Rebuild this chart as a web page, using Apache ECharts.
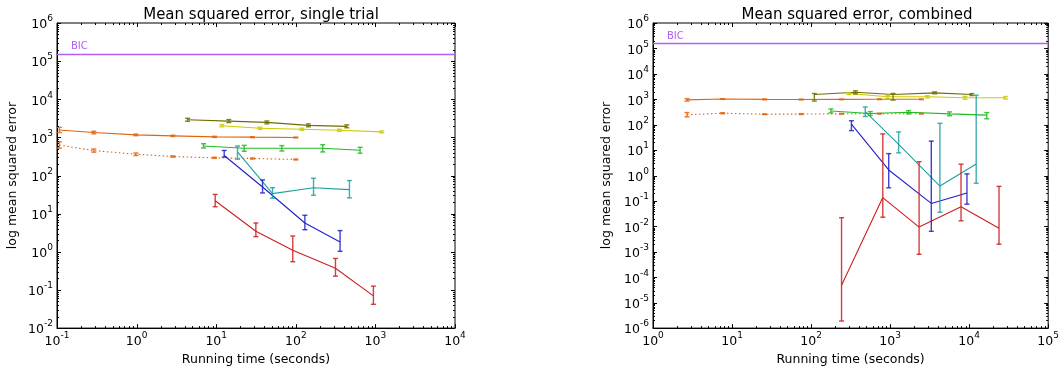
<!DOCTYPE html>
<html>
<head>
<meta charset="utf-8">
<script src="https://cdn.jsdelivr.net/npm/echarts@6/dist/echarts.min.js"></script>
<style>
html,body{margin:0;padding:0;background:#fff;}
#chart{width:1062px;height:371px;}
</style>
</head>
<body>
<div id="chart"></div>
<script>
// ---------- tick labels / axis ranges ----------
const LEFT_X_TICKS = [0.1, 1, 10, 100, 1000, 10000];
const LEFT_Y_TICKS = [1e-2, 1e-1, 1, 10, 100, 1e3, 1e4, 1e5, 1e6];
const RIGHT_X_TICKS = [1, 10, 100, 1000, 10000, 100000];
const RIGHT_Y_TICKS = [1e-6, 1e-5, 1e-4, 1e-3, 1e-2, 1e-1, 1, 10, 100, 1e3, 1e4, 1e5, 1e6];
const MINOR_MULT = [2, 3, 4, 5, 6, 7, 8, 9];
const BIC_VALUE = 156000;

// ---------- single trial ----------
const S_RED_X  = [9.7, 31.5, 91.6, 315, 944];
const S_RED_Y  = [21.9, 3.46, 1.1, 0.37, 0.07];
const S_RED_LO = [15.2, 2.5, 0.55, 0.23, 0.042];
const S_RED_HI = [32, 5.7, 2.6, 0.67, 0.126];

const S_BLUE_X  = [12.6, 38.2, 130, 360];
const S_BLUE_Y  = [335, 50, 5.7, 1.8];
const S_BLUE_LO = [305, 35, 3.8, 1.03];
const S_BLUE_HI = [455, 77, 9.1, 3.6];

const S_TEAL_X  = [18.5, 51, 167, 472];
const S_TEAL_Y  = [420, 33.6, 48, 42.7];
const S_TEAL_LO = [269, 25.5, 30.5, 26];
const S_TEAL_HI = [594, 48, 85, 74];

const S_GREEN_X  = [6.93, 22.5, 66.7, 218, 642];
const S_GREEN_Y  = [594, 518, 518, 518, 459];
const S_GREEN_LO = [528, 433, 440, 416, 385];
const S_GREEN_HI = [683, 618, 610, 644, 550];

const S_OLIVE_X  = [4.37, 14.4, 43.3, 144, 437];
const S_OLIVE_Y  = [2900, 2680, 2475, 2070, 1950];
const S_OLIVE_LO = [2650, 2450, 2270, 1900, 1790];
const S_OLIVE_HI = [3170, 2930, 2700, 2260, 2130];

const S_YELLOW_X  = [11.7, 35.6, 119, 353, 1200];
const S_YELLOW_Y  = [2030, 1733, 1633, 1538, 1393];
const S_YELLOW_LO = [1900, 1620, 1530, 1440, 1310];
const S_YELLOW_HI = [2170, 1850, 1745, 1645, 1480];

const S_ORANGE_X  = [0.107, 0.29, 0.98, 2.85, 9.5, 28.5, 100];
const S_ORANGE_Y  = [1570, 1340, 1166, 1099, 1035, 1015, 995];
const S_ORANGE_LO = [1340, 1240, 1110, 1060, 1000, 985, 970];
const S_ORANGE_HI = [1840, 1450, 1225, 1140, 1070, 1045, 1020];

const S_ORDOT_X  = [0.107, 0.29, 0.98, 2.85, 9.5, 28.5, 100];
const S_ORDOT_Y  = [631, 451, 362, 315, 292, 280, 264];
const S_ORDOT_LO = [520, 410, 335, 303, 282, 270, 256];
const S_ORDOT_HI = [770, 497, 390, 328, 303, 290, 272];

// ---------- combined ----------
const C_RED_X  = [243, 808, 2327, 7890, 23870];
const C_RED_Y  = [4.8e-5, 0.136, 0.0094, 0.059, 0.0084];
const C_RED_LO = [1.9e-6, 0.023, 0.0008, 0.0166, 0.002];
const C_RED_HI = [0.022, 43.5, 3.5, 2.8, 0.375];

const C_BLUE_X  = [324, 960, 3320, 9380];
const C_BLUE_Y  = [106, 1.66, 0.08, 0.207];
const C_BLUE_LO = [58.6, 0.33, 0.0064, 0.075];
const C_BLUE_HI = [143, 7.3, 22.6, 1.16];

const C_TEAL_X  = [485, 1282, 4266, 12280];
const C_TEAL_Y  = [328, 16.8, 0.386, 2.83];
const C_TEAL_LO = [210, 7.8, 0.036, 0.5];
const C_TEAL_HI = [498, 52, 113, 1450];

const C_GREEN_X  = [178, 561, 1710, 5636, 16700];
const C_GREEN_Y  = [348, 275, 309, 267, 237];
const C_GREEN_LO = [290, 230, 266, 224, 171];
const C_GREEN_HI = [416, 328, 359, 319, 300];

const C_OLIVE_X  = [110, 364, 1089, 3656, 10840];
const C_OLIVE_Y  = [1540, 1894, 1540, 1786, 1540];
const C_OLIVE_LO = [849, 1620, 929, 1650, 1400];
const C_OLIVE_HI = [1680, 2150, 1700, 1950, 1680];

const C_YELLOW_X  = [300, 933, 2958, 8854, 28900];
const C_YELLOW_Y  = [1683, 1250, 1250, 1143, 1143];
const C_YELLOW_LO = [1560, 1090, 1130, 1000, 1020];
const C_YELLOW_HI = [1800, 1430, 1380, 1300, 1280];

const C_ORANGE_X  = [2.69, 7.6, 25.8, 75, 243, 734, 2489];
const C_ORANGE_Y  = [950, 1020, 990, 980, 990, 1000, 1000];
const C_ORANGE_LO = [850, 990, 950, 940, 960, 970, 970];
const C_ORANGE_HI = [1060, 1050, 1030, 1020, 1020, 1030, 1030];

const C_ORDOT_X  = [2.69, 7.6, 25.8, 75, 243, 734, 2489];
const C_ORDOT_Y  = [245, 283, 259, 262, 268, 271, 271];
const C_ORDOT_LO = [204, 270, 250, 252, 260, 262, 262];
const C_ORDOT_HI = [300, 296, 268, 272, 277, 280, 280];

// ---------- colours ----------
const COL = {
  red: '#cc1f1f', blue: '#2020c8', teal: '#1fa0a0', green: '#22bb22',
  olive: '#6e6e00', yellow: '#cccc00', orange: '#e0650f', bic: '#b060f5'
};

const FONT = 'DejaVu Sans';

function pairs(xs, ys) { return xs.map((x, i) => [x, ys[i]]); }
function triples(xs, lo, hi) { return xs.map((x, i) => [x, lo[i], hi[i]]); }

function errRender(color) {
  return function (params, api) {
    const x = api.value(0), lo = api.value(1), hi = api.value(2);
    const a = api.coord([x, lo]);
    const b = api.coord([x, hi]);
    const w = 2.5;
    const st = { stroke: color, lineWidth: 1.4, opacity: 0.85 };
    return {
      type: 'group',
      children: [
        { type: 'line', shape: { x1: a[0], y1: a[1], x2: b[0], y2: b[1] }, style: st },
        { type: 'line', shape: { x1: a[0] - w, y1: a[1], x2: a[0] + w, y2: a[1] }, style: st },
        { type: 'line', shape: { x1: b[0] - w, y1: b[1], x2: b[0] + w, y2: b[1] }, style: st }
      ]
    };
  };
}

function tickRender(xTicks, yTicks) {
  return function (params, api) {
    const children = [];
    const xMin = xTicks[0], xMax = xTicks[xTicks.length - 1];
    const yMin = yTicks[0], yMax = yTicks[yTicks.length - 1];
    const st = { stroke: '#000', lineWidth: 1 };
    const bl = api.coord([xMin, yMin]);
    const tr = api.coord([xMax, yMax]);
    const bottom = bl[1], top = tr[1], left = bl[0], right = tr[0];
    function xt(v, len) {
      const px = Math.round(api.coord([v, yMin])[0]) + 0.5;
      children.push({ type: 'line', shape: { x1: px, y1: bottom, x2: px, y2: bottom - len }, style: st });
      children.push({ type: 'line', shape: { x1: px, y1: top, x2: px, y2: top + len }, style: st });
    }
    function yt(v, len) {
      const py = Math.round(api.coord([xMin, v])[1]) + 0.5;
      children.push({ type: 'line', shape: { x1: left, y1: py, x2: left + len, y2: py }, style: st });
      children.push({ type: 'line', shape: { x1: right, y1: py, x2: right - len, y2: py }, style: st });
    }
    xTicks.forEach((t, i) => {
      xt(t, 4);
      if (i < xTicks.length - 1) MINOR_MULT.forEach(m => xt(t * m, 2));
    });
    yTicks.forEach((t, i) => {
      yt(t, 4);
      if (i < yTicks.length - 1) MINOR_MULT.forEach(m => yt(t * m, 2));
    });
    return { type: 'group', children: children };
  };
}

function labelFmt(v) {
  const e = Math.round(Math.log10(v));
  return '{b|10}{s|' + e + '}';
}
const richLabel = {
  b: { fontFamily: FONT, fontSize: 12.5, color: '#000', verticalAlign: 'bottom', lineHeight: 17 },
  s: { fontFamily: FONT, fontSize: 9, color: '#000', verticalAlign: 'top', lineHeight: 17 }
};

function xAxisDef(idx, ticks) {
  return {
    type: 'log', logBase: 10, gridIndex: idx,
    min: ticks[0], max: ticks[ticks.length - 1], interval: 1,
    name: 'Running time (seconds)', nameLocation: 'middle', nameGap: 22,
    nameTextStyle: { fontFamily: FONT, fontSize: 12.5, color: '#000' },
    axisLine: { show: true, onZero: false, lineStyle: { color: '#000', width: 1 } },
    axisTick: { show: false }, minorTick: { show: false },
    splitLine: { show: false },
    axisLabel: { formatter: labelFmt, rich: richLabel, margin: 3, showMinLabel: true, showMaxLabel: true }
  };
}
function yAxisDef(idx, ticks, gap) {
  return {
    type: 'log', logBase: 10, gridIndex: idx,
    min: ticks[0], max: ticks[ticks.length - 1], interval: 1,
    name: 'log mean squared error', nameLocation: 'middle', nameGap: gap, nameRotate: 90,
    nameTextStyle: { fontFamily: FONT, fontSize: 12.5, color: '#000' },
    axisLine: { show: true, onZero: false, lineStyle: { color: '#000', width: 1 } },
    axisTick: { show: false }, minorTick: { show: false },
    splitLine: { show: false },
    axisLabel: { formatter: labelFmt, rich: richLabel, margin: 4, showMinLabel: true, showMaxLabel: true }
  };
}

function lineSeries(idx, xs, ys, color, dotted) {
  return {
    type: 'line', xAxisIndex: idx, yAxisIndex: idx,
    data: pairs(xs, ys), symbol: 'none', silent: true, animation: false,
    lineStyle: { color: color, width: 1.1, type: dotted ? [1.5, 2.5] : 'solid' },
    z: 3
  };
}
function errSeries(idx, xs, lo, hi, color) {
  return {
    type: 'custom', xAxisIndex: idx, yAxisIndex: idx,
    data: triples(xs, lo, hi), renderItem: errRender(color),
    encode: { x: 0, y: [1, 2] }, silent: true, animation: false, z: 4
  };
}
function bicSeries(idx) {
  return {
    type: 'line', xAxisIndex: idx, yAxisIndex: idx, data: [], silent: true, animation: false,
    markLine: {
      silent: true, symbol: ['none', 'none'], animation: false,
      lineStyle: { color: COL.bic, width: 1.3, type: 'solid' },
      label: {
        show: true, position: 'insideStartTop', formatter: 'BIC', distance: [14, 2],
        color: COL.bic, fontFamily: FONT, fontSize: 10
      },
      data: [{ yAxis: BIC_VALUE }]
    }
  };
}
function tickSeries(idx, xT, yT) {
  return {
    type: 'custom', xAxisIndex: idx, yAxisIndex: idx,
    data: [[xT[1], yT[1]]], renderItem: tickRender(xT, yT),
    silent: true, animation: false, clip: false, z: 10
  };
}

const series = [
  bicSeries(0),
  lineSeries(0, S_ORDOT_X, S_ORDOT_Y, COL.orange, true), errSeries(0, S_ORDOT_X, S_ORDOT_LO, S_ORDOT_HI, COL.orange),
  lineSeries(0, S_ORANGE_X, S_ORANGE_Y, COL.orange), errSeries(0, S_ORANGE_X, S_ORANGE_LO, S_ORANGE_HI, COL.orange),
  lineSeries(0, S_OLIVE_X, S_OLIVE_Y, COL.olive), errSeries(0, S_OLIVE_X, S_OLIVE_LO, S_OLIVE_HI, COL.olive),
  lineSeries(0, S_YELLOW_X, S_YELLOW_Y, COL.yellow), errSeries(0, S_YELLOW_X, S_YELLOW_LO, S_YELLOW_HI, COL.yellow),
  lineSeries(0, S_GREEN_X, S_GREEN_Y, COL.green), errSeries(0, S_GREEN_X, S_GREEN_LO, S_GREEN_HI, COL.green),
  lineSeries(0, S_TEAL_X, S_TEAL_Y, COL.teal), errSeries(0, S_TEAL_X, S_TEAL_LO, S_TEAL_HI, COL.teal),
  lineSeries(0, S_BLUE_X, S_BLUE_Y, COL.blue), errSeries(0, S_BLUE_X, S_BLUE_LO, S_BLUE_HI, COL.blue),
  lineSeries(0, S_RED_X, S_RED_Y, COL.red), errSeries(0, S_RED_X, S_RED_LO, S_RED_HI, COL.red),
  tickSeries(0, LEFT_X_TICKS, LEFT_Y_TICKS),

  bicSeries(1),
  lineSeries(1, C_ORDOT_X, C_ORDOT_Y, COL.orange, true), errSeries(1, C_ORDOT_X, C_ORDOT_LO, C_ORDOT_HI, COL.orange),
  lineSeries(1, C_ORANGE_X, C_ORANGE_Y, COL.orange), errSeries(1, C_ORANGE_X, C_ORANGE_LO, C_ORANGE_HI, COL.orange),
  lineSeries(1, C_OLIVE_X, C_OLIVE_Y, COL.olive), errSeries(1, C_OLIVE_X, C_OLIVE_LO, C_OLIVE_HI, COL.olive),
  lineSeries(1, C_YELLOW_X, C_YELLOW_Y, COL.yellow), errSeries(1, C_YELLOW_X, C_YELLOW_LO, C_YELLOW_HI, COL.yellow),
  lineSeries(1, C_GREEN_X, C_GREEN_Y, COL.green), errSeries(1, C_GREEN_X, C_GREEN_LO, C_GREEN_HI, COL.green),
  lineSeries(1, C_TEAL_X, C_TEAL_Y, COL.teal), errSeries(1, C_TEAL_X, C_TEAL_LO, C_TEAL_HI, COL.teal),
  lineSeries(1, C_BLUE_X, C_BLUE_Y, COL.blue), errSeries(1, C_BLUE_X, C_BLUE_LO, C_BLUE_HI, COL.blue),
  lineSeries(1, C_RED_X, C_RED_Y, COL.red), errSeries(1, C_RED_X, C_RED_LO, C_RED_HI, COL.red),
  tickSeries(1, RIGHT_X_TICKS, RIGHT_Y_TICKS)
];

const chart = echarts.init(document.getElementById('chart'), null, { renderer: 'canvas' });
chart.setOption({
  animation: false,
  backgroundColor: '#fff',
  textStyle: { fontFamily: FONT },
  title: [
    { text: 'Mean squared error, single trial', left: 256, top: 3, textAlign: 'center',
      textStyle: { fontFamily: FONT, fontSize: 15, fontWeight: 'normal', color: '#000' } },
    { text: 'Mean squared error, combined', left: 852, top: 3, textAlign: 'center',
      textStyle: { fontFamily: FONT, fontSize: 15, fontWeight: 'normal', color: '#000' } }
  ],
  grid: [
    { left: 57, top: 23, width: 398, height: 310, show: true, borderColor: '#000', borderWidth: 1, backgroundColor: 'transparent' },
    { left: 653, top: 23, width: 399, height: 310, show: true, borderColor: '#000', borderWidth: 1, backgroundColor: 'transparent' }
  ],
  xAxis: [xAxisDef(0, LEFT_X_TICKS), xAxisDef(1, RIGHT_X_TICKS)],
  yAxis: [yAxisDef(0, LEFT_Y_TICKS, 38), yAxisDef(1, RIGHT_Y_TICKS, 40)],
  series: series
});
</script>
</body>
</html>
